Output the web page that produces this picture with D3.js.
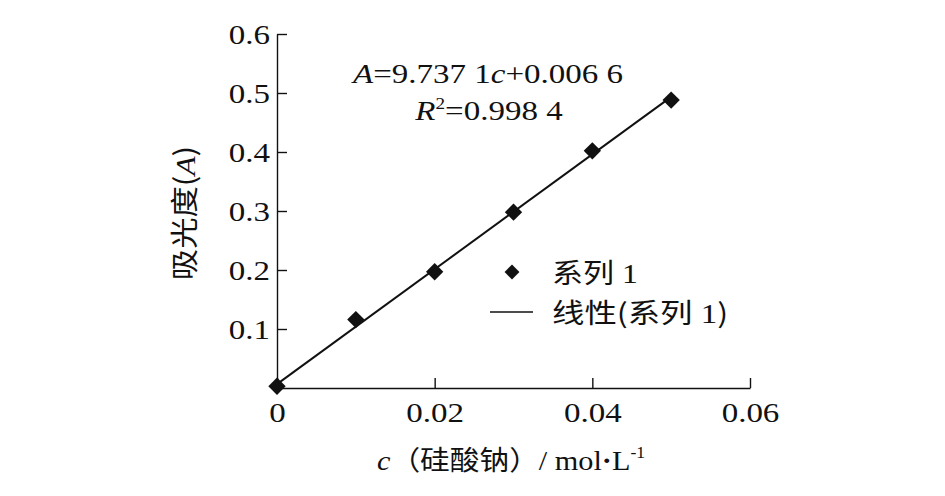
<!DOCTYPE html>
<html>
<head>
<meta charset="utf-8">
<script src="https://cdn.jsdelivr.net/npm/d3@7"></script>
<style>
  html, body { margin: 0; padding: 0; background: #fff; }
  svg { display: block; }
  text { fill: #111; }
</style>
</head>
<body>
<svg id="chart" width="945" height="496"></svg>
<script>
const concentrations = [0, 0.01, 0.02, 0.03, 0.04, 0.05];
const absorbance = [0.003, 0.116, 0.197, 0.298, 0.402, 0.488];
const fitSlope = 9.7371;
const fitIntercept = 0.0066;
const xTicks = [0, 0.02, 0.04, 0.06];
const xTickLabels = ["0", "0.02", "0.04", "0.06"];
const yTicks = [0.1, 0.2, 0.3, 0.4, 0.5, 0.6];
const yTickLabels = ["0.1", "0.2", "0.3", "0.4", "0.5", "0.6"];
const seriesName = "系列 1";
const trendName = "线性(系列 1)";

const SERIF = "'Liberation Serif', 'Times New Roman', serif";
const CJK = "'Noto Sans CJK SC', sans-serif";
const SX = 1.2; // horizontal stretch of the original typeface

const svg = d3.select("#chart");
const x = d3.scaleLinear().domain([0, 0.06]).range([277, 750]);
const y = d3.scaleLinear().domain([0, 0.6]).range([388, 34]);

// Y axis
const yAxis = svg.append("g").attr("transform", `translate(${x(0)},0)`)
  .call(d3.axisLeft(y).tickValues(yTicks).tickSizeInner(-10).tickSizeOuter(0)
        .tickPadding(7).tickFormat((d, i) => yTickLabels[i]));
yAxis.select(".domain").attr("stroke", "#111").attr("stroke-width", 1.4);
yAxis.selectAll(".tick line").attr("stroke", "#111").attr("stroke-width", 1.4);
yAxis.selectAll(".tick text")
  .attr("font-family", SERIF).attr("font-size", 27.5).attr("fill", "#111")
  .attr("x", -7 / SX).attr("dy", "0.33em")
  .attr("transform", `scale(${SX},1)`);

// X axis
const xAxis = svg.append("g").attr("transform", `translate(0,${y(0)})`)
  .call(d3.axisBottom(x).tickValues(xTicks).tickSizeInner(-10).tickSizeOuter(0)
        .tickPadding(12).tickFormat((d, i) => xTickLabels[i]));
xAxis.select(".domain").attr("stroke", "#111").attr("stroke-width", 1.4);
xAxis.selectAll(".tick line").attr("stroke", "#111").attr("stroke-width", 1.4);
xAxis.selectAll(".tick text")
  .attr("font-family", SERIF).attr("font-size", 27.5).attr("fill", "#111")
  .attr("y", 34).attr("dy", 0)
  .attr("transform", `scale(${SX},1)`);

// Trend line
const line = d3.line().x(d => x(d)).y(d => y(fitSlope * d + fitIntercept));
svg.append("path")
  .datum([concentrations[0], concentrations[concentrations.length - 1]])
  .attr("d", line).attr("fill", "none").attr("stroke", "#111").attr("stroke-width", 2);

// Points
const sym = d3.symbol().type(d3.symbolSquare).size(150);
svg.selectAll(".pt").data(concentrations).enter().append("path")
  .attr("class", "pt")
  .attr("d", sym)
  .attr("transform", (d, i) => `translate(${x(d)},${y(absorbance[i])}) rotate(45)`)
  .attr("fill", "#111");

// helper for stretched text
function stretchedText(px, py, anchor, sx) {
  return svg.append("text")
    .attr("transform", `translate(${px},${py}) scale(${sx || SX},1)`)
    .attr("text-anchor", anchor)
    .attr("font-family", SERIF).attr("font-size", 27.5);
}

// Equation
const eq = stretchedText(488, 83, "middle");
eq.append("tspan").attr("font-style", "italic").text("A");
eq.append("tspan").text("=9.737 1");
eq.append("tspan").attr("font-style", "italic").text("c");
eq.append("tspan").text("+0.006 6");

const r2 = stretchedText(489, 120, "middle");
r2.append("tspan").attr("font-style", "italic").text("R");
r2.append("tspan").attr("font-size", 16).attr("dy", -11).text("2");
r2.append("tspan").attr("dy", 11).text("=0.998 4");

// Legend
svg.append("path").attr("d", d3.symbol().type(d3.symbolSquare).size(110))
  .attr("transform", "translate(512,272) rotate(45)").attr("fill", "#111");
const lg1 = stretchedText(552, 283, "start", 1.15);
lg1.append("tspan").attr("font-family", CJK).attr("font-size", 27).text("系列");
lg1.append("tspan").text(" 1");

svg.append("line").attr("x1", 490).attr("x2", 533).attr("y1", 312).attr("y2", 312)
  .attr("stroke", "#111").attr("stroke-width", 1.4);
const lg2 = stretchedText(552, 323, "start", 1.2);
lg2.append("tspan").attr("font-family", CJK).attr("font-size", 27).text("线性(系列");
lg2.append("tspan").text(" 1");
lg2.append("tspan").attr("font-family", CJK).attr("font-size", 27).text(")");

// Y title
const yt = svg.append("text")
  .attr("transform", `translate(195,213) rotate(-90) scale(1.12,1)`)
  .attr("text-anchor", "middle")
  .attr("font-family", SERIF).attr("font-size", 28);
yt.append("tspan").attr("font-family", CJK).attr("font-size", 28).text("吸光度(");
yt.append("tspan").attr("font-style", "italic").text("A");
yt.append("tspan").attr("font-family", CJK).attr("font-size", 28).text(")");

// X title
const xt = svg.append("text")
  .attr("transform", `translate(511,470) scale(1.1,1)`)
  .attr("text-anchor", "middle")
  .attr("font-family", SERIF).attr("font-size", 27.5);
xt.append("tspan").attr("font-style", "italic").text("c");
xt.append("tspan").attr("font-family", CJK).attr("font-size", 27).text("（硅酸钠）");
xt.append("tspan").text("/ mol");
xt.append("tspan").attr("font-weight", "bold").text("·");
xt.append("tspan").text("L");
xt.append("tspan").attr("font-size", 16).attr("dy", -12).text("-1");
</script>
</body>
</html>
